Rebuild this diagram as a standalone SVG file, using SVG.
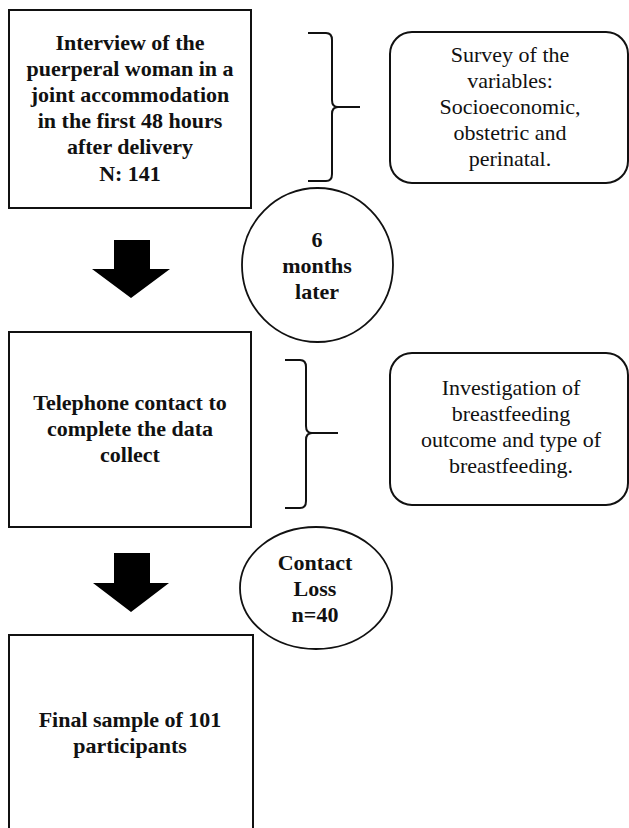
<svg xmlns="http://www.w3.org/2000/svg" width="629" height="828" viewBox="0 0 629 828">
<style>
.box{fill:#fff;stroke:#111;stroke-width:2}
.ell{fill:#fff;stroke:#111;stroke-width:1.8}
.b{font-family:"Liberation Serif","Times New Roman",serif;font-weight:bold;font-size:22px;fill:#111;text-anchor:middle}
.r{font-family:"Liberation Serif","Times New Roman",serif;font-size:22px;fill:#111;text-anchor:middle}
.brace{fill:none;stroke:#111;stroke-width:2}
.arrow{fill:#000}
</style>
<rect width="629" height="828" fill="#fff"/>
<g id="interview">
<rect class="box" x="9" y="10" width="242" height="198"/>
<text class="b" x="130" y="50">Interview of the</text>
<text class="b" x="130" y="76">puerperal woman in a</text>
<text class="b" x="130" y="102">joint accommodation</text>
<text class="b" x="130" y="128">in the first 48 hours</text>
<text class="b" x="130" y="154">after delivery</text>
<text class="b" x="130" y="181">N: 141</text>
</g>
<g id="survey">
<rect class="box" x="390" y="32" width="238" height="151" rx="22"/>
<text class="r" x="510" y="62">Survey of the</text>
<text class="r" x="510" y="88">variables:</text>
<text class="r" x="510" y="114">Socioeconomic,</text>
<text class="r" x="510" y="140">obstetric and</text>
<text class="r" x="510" y="166">perinatal.</text>
</g>
<g id="six-months">
<ellipse class="ell" cx="317.5" cy="265" rx="75.5" ry="77"/>
<text class="b" x="317" y="247">6</text>
<text class="b" x="317" y="273">months</text>
<text class="b" x="317" y="299">later</text>
</g>
<g id="telephone">
<rect class="box" x="9" y="332" width="242" height="195"/>
<text class="b" x="130" y="410">Telephone contact to</text>
<text class="b" x="130" y="436">complete the data</text>
<text class="b" x="130" y="462">collect</text>
</g>
<g id="investigation">
<rect class="box" x="390" y="353" width="238" height="152" rx="22"/>
<text class="r" x="511" y="395">Investigation of</text>
<text class="r" x="511" y="421">breastfeeding</text>
<text class="r" x="511" y="447">outcome and type of</text>
<text class="r" x="511" y="473">breastfeeding.</text>
</g>
<g id="contact-loss">
<ellipse class="ell" cx="316" cy="588" rx="76" ry="61"/>
<text class="b" x="315" y="570">Contact</text>
<text class="b" x="315" y="596">Loss</text>
<text class="b" x="315" y="622">n=40</text>
</g>
<g id="final-sample">
<rect class="box" x="9" y="635" width="244" height="210"/>
<text class="b" x="130" y="727">Final sample of 101</text>
<text class="b" x="130" y="753">participants</text>
</g>
<g id="connectors">
<polygon class="arrow" points="114,240 150,240 150,269 170,269 131,298 92,269 114,269"/>
<polygon class="arrow" points="114,553 150,553 150,583 169,583 131,612 93,583 114,583"/>
<path class="brace" d="M308,33 L326,33 Q332,33 332,40 L332,100 Q332,107 338,107 L360,107 M338,107 Q332,107 332,114 L332,174 Q332,181 326,181 L308,181"/>
<path class="brace" d="M285,360 L300,360 Q306,360 306,367 L306,426 Q306,433 312,433 L338,433 M312,433 Q306,433 306,440 L306,501 Q306,508 300,508 L285,508"/>
</g>
</svg>
